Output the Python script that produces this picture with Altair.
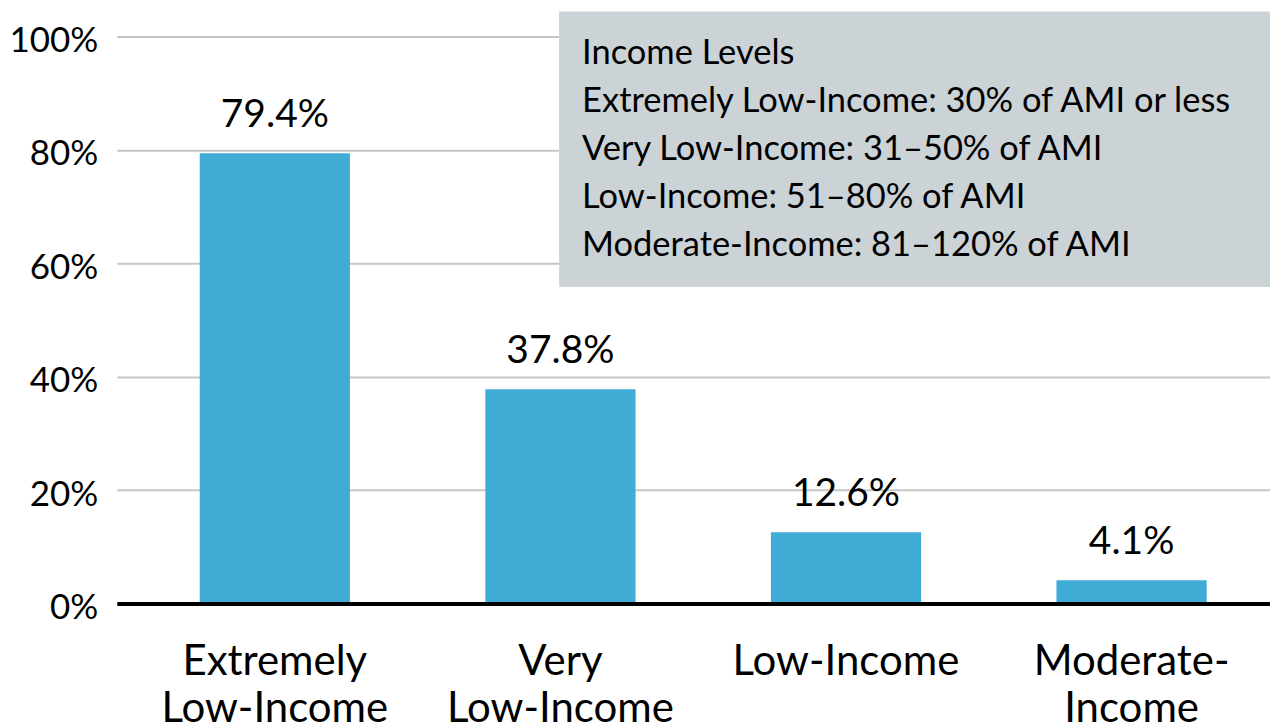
import altair as alt
import pandas as pd

categories = ["Extremely Low-Income", "Very Low-Income", "Low-Income", "Moderate-Income"]
values = [79.4, 37.8, 12.6, 4.1]
y_ticks = [0, 20, 40, 60, 80, 100]
legend_lines = [
    "Income Levels",
    "Extremely Low-Income: 30% of AMI or less",
    "Very Low-Income: 31\u201350% of AMI",
    "Low-Income: 51\u201380% of AMI",
    "Moderate-Income: 81\u2013120% of AMI",
]

FONT = "Lato"
W, H = 1155, 568

df = pd.DataFrame({
    "cat": categories,
    "val": values,
    "label": [f"{v:.1f}%" for v in values],
})

label_expr = ("datum.label == 'Moderate-Income' ? ['Moderate-', 'Income'] : "
              "split(datum.label, ' ')")

x = alt.X(
    "cat:N", sort=categories, title=None,
    scale=alt.Scale(paddingInner=0.474, paddingOuter=0.256, align=0.567),
    axis=alt.Axis(
        labelExpr=label_expr, labelAngle=0, labelFont=FONT, labelFontSize=42,
        labelColor="black", labelLineHeight=47, labelBaseline="alphabetic",
        labelPadding=71, ticks=False, tickSize=0, domainColor="black",
        domainWidth=4, zindex=1, labelLimit=400,
    ),
)
y = alt.Y(
    "val:Q", title=None,
    scale=alt.Scale(domain=[0, 100]),
    axis=alt.Axis(
        values=y_ticks, labelExpr="datum.value + '%'", grid=True,
        gridColor="#c6c6c6", gridWidth=2, domain=False, ticks=False, tickSize=0,
        labelFont=FONT, labelFontSize=35, labelColor="black", labelPadding=19,
        labelOffset=4,
    ),
)

base = alt.Chart(df)
bars = base.mark_bar(color="#40acd6").encode(x=x, y=y)
texts = base.mark_text(
    font=FONT, fontSize=39, color="black", baseline="alphabetic", dy=-26
).encode(x=alt.X("cat:N", sort=categories), y="val:Q", text="label:N")

box = alt.Chart(pd.DataFrame({"a": [0]})).mark_rect(color="#cbd3d7").encode(
    x=alt.value(443), x2=alt.value(W), y=alt.value(-25), y2=alt.value(251)
)
legend = alt.Chart(pd.DataFrame({"a": [0]})).mark_text(
    text=legend_lines, font=FONT, fontSize=34.5, color="black", align="left",
    baseline="alphabetic", lineHeight=48,
).encode(x=alt.value(466), y=alt.value(28))

chart = alt.layer(bars, texts, box, legend).properties(
    width=W, height=H,
    autosize=alt.AutoSizeParams(type="none"),
    padding={"left": 109, "top": 28, "right": 0, "bottom": 118},
).configure_view(stroke=None)

chart.save("out.html", embed_options={"renderer": "svg", "actions": False})
